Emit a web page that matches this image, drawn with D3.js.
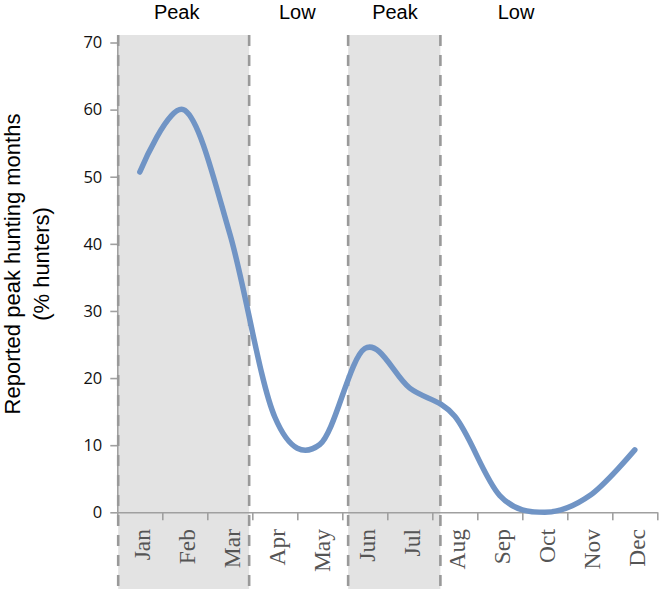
<!DOCTYPE html>
<html>
<head>
<meta charset="utf-8">
<script src="https://cdn.jsdelivr.net/npm/d3@7"></script>
<style>
  body { margin: 0; background: #fff; }
  svg { display: block; }
</style>
</head>
<body>
<div id="chart"></div>
<script>
// 数据
var months = ['Jan', 'Feb', 'Mar', 'Apr', 'May', 'Jun', 'Jul', 'Aug', 'Sep', 'Oct', 'Nov', 'Dec']
var huntersPct = [50.7, 59.9, 41.5, 14.2, 10.1, 24.4, 18.5, 14.3, 2.5, 0, 2.5, 9.3]
var yTicks = [0, 10, 20, 30, 40, 50, 60, 70]
var seasons = ['Peak', 'Low', 'Peak', 'Low']
var seasonAt = [1.32, 4.0, 6.17, 8.86]          // 月份单位
var peakBands = [[0.02, 2.93], [5.13, 7.18]]    // 月份单位

function drawChart() {
  var width = 660
  var height = 589
  var left = 117.3
  var right = 657.3
  var top = 42.5
  var bottom = 512.3
  var sans = '"Open Sans", sans-serif'
  var arial = '"Liberation Sans", sans-serif'

  var svg = d3.select('#chart').append('svg').attr('width', width).attr('height', height)

  var x = d3.scaleLinear().domain([0, months.length]).range([left, right])
  var y = d3.scaleLinear().domain([0, 70]).range([bottom, top])

  // 阴影区
  svg.selectAll('rect.band').data(peakBands).enter().append('rect')
    .attr('class', 'band')
    .attr('x', function(d) { return x(d[0]) })
    .attr('width', function(d) { return x(d[1]) - x(d[0]) })
    .attr('y', 35)
    .attr('height', height - 35)
    .attr('fill', '#e3e3e3')

  // y轴
  var gy = svg.append('g').attr('transform', `translate(${left}, 0)`)
    .call(d3.axisLeft(y).tickValues(yTicks).tickSize(7).tickSizeOuter(0).tickPadding(8))
  gy.select('.domain').attr('stroke', '#a0a0a0').attr('stroke-width', 1.6)
  gy.selectAll('.tick line').attr('stroke', '#a0a0a0').attr('stroke-width', 1.6)
  gy.selectAll('text').attr('fill', '#111').style('font-family', sans).style('font-size', '16.5px')

  // x轴
  var gx = svg.append('g').attr('transform', `translate(0, ${bottom})`)
    .call(d3.axisBottom(x).tickValues(d3.range(months.length + 1)).tickSize(8).tickSizeOuter(0).tickFormat(''))
  gx.select('.domain').attr('stroke', '#a0a0a0').attr('stroke-width', 1.6)
  gx.selectAll('.tick line').attr('stroke', '#a0a0a0').attr('stroke-width', 1.6)

  svg.append('g').selectAll('text').data(months).enter().append('text')
    .text(function(d) { return d })
    .attr('transform', function(d, i) { return `translate(${x(i + 0.5) + 2}, 529) rotate(-90)` })
    .attr('text-anchor', 'end')
    .attr('dy', '0.35em')
    .attr('fill', '#555')
    .style('font-family', '"Liberation Serif", serif')
    .style('font-size', '23.5px')

  // 虚线
  var edges = []
  peakBands.forEach(function(b) { edges.push(b[0], b[1]) })
  svg.selectAll('line.edge').data(edges).enter().append('line')
    .attr('class', 'edge')
    .attr('x1', function(d) { return x(d) })
    .attr('x2', function(d) { return x(d) })
    .attr('y1', 35)
    .attr('y2', height)
    .attr('stroke', '#999')
    .attr('stroke-width', 2.6)
    .attr('stroke-dasharray', '11,9')

  // 曲线
  var line = d3.line()
    .x(function(d, i) { return x(i + 0.5) })
    .y(function(d) { return y(d) })
    .curve(d3.curveCardinal.tension(0))

  svg.append('path')
    .datum(huntersPct)
    .attr('d', line)
    .attr('fill', 'none')
    .attr('stroke', '#7094c5')
    .attr('stroke-width', 5.5)
    .attr('stroke-linecap', 'round')

  // 顶部标签
  svg.append('g').selectAll('text').data(seasons).enter().append('text')
    .text(function(d) { return d })
    .attr('x', function(d, i) { return x(seasonAt[i]) })
    .attr('y', 18.5)
    .attr('text-anchor', 'middle')
    .attr('fill', '#000')
    .style('font-family', arial)
    .style('font-size', '20px')

  // y轴标题
  var title = svg.append('text')
    .attr('transform', 'translate(0, 264) rotate(-90)')
    .attr('text-anchor', 'middle')
    .attr('fill', '#000')
    .style('font-family', arial)
    .style('font-size', '22px')
  title.append('tspan').attr('x', 0).attr('y', 20).text('Reported peak hunting months')
  title.append('tspan').attr('x', 0).attr('y', 49).text('(% hunters)')
}

drawChart()
</script>
</body>
</html>
